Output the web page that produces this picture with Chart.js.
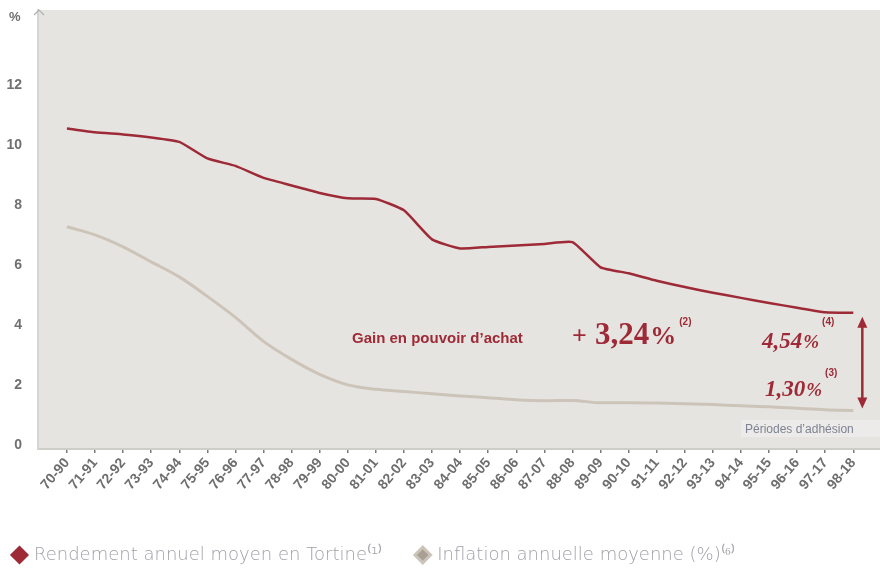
<!DOCTYPE html>
<html>
<head>
<meta charset="utf-8">
<script src="https://cdn.jsdelivr.net/npm/chart.js@4.4.1/dist/chart.umd.min.js"></script>
<style>
  html, body { margin: 0; padding: 0; background: #fff; }
  #wrap { width: 880px; height: 574px; }
</style>
</head>
<body>
<div id="wrap"><canvas id="chartTortine"></canvas></div>
<script>
// Périodes d'adhésion (axe X)
const periodes = ['70-90', '71-91', '72-92', '73-93', '74-94', '75-95', '76-96', '77-97', '78-98', '79-99',
    '80-00', '81-01', '82-02', '83-03', '84-04', '85-05', '86-06', '87-07', '88-08', '89-09',
    '90-10', '91-11', '92-12', '93-13', '94-14', '95-15', '96-16', '97-17', '98-18'];

// Rendement annuel moyen en Tortine (%)
const rendement = [10.55, 10.42, 10.35, 10.25, 10.1, 9.55, 9.3, 8.9, 8.65, 8.4,
    8.22, 8.2, 7.82, 6.85, 6.55, 6.6, 6.65, 6.7, 6.76, 5.92,
    5.72, 5.47, 5.26, 5.07, 4.9, 4.73, 4.57, 4.42, 4.4];

// Inflation annuelle moyenne (%)
const inflation = [7.27, 7.0, 6.6, 6.1, 5.6, 4.95, 4.25, 3.45, 2.85, 2.35,
    2.0, 1.85, 1.78, 1.7, 1.63, 1.57, 1.5, 1.47, 1.48, 1.4,
    1.4, 1.39, 1.37, 1.34, 1.3, 1.27, 1.22, 1.17, 1.14];

// Graduations de l'axe Y
const ticksY = [0, 2, 4, 6, 8, 10, 12];

const ROUGE = '#9d2a36';
const BEIGE = '#cdc4b9';

// Fond gris de la zone de tracé
const fondPlugin = {
    id: 'fond',
    beforeDraw(chart) {
        const { ctx, chartArea: a } = chart;
        ctx.save();
        ctx.fillStyle = '#e6e4e0';
        ctx.fillRect(a.left, a.top, chart.width - a.left, a.bottom - a.top);
        ctx.restore();
    }
};

// écrit un texte et renvoie la position x suivante
function ecrire(ctx, txt, x, y, font) {
    ctx.font = font;
    ctx.fillText(txt, x, y);
    return x + ctx.measureText(txt).width;
}

// Textes et flèche d'annotation
const annotPlugin = {
    id: 'annotations',
    afterDatasetsDraw(chart) {
        const { ctx, chartArea: a } = chart;
        const x = chart.scales.x, y = chart.scales.y;
        ctx.save();
        ctx.textBaseline = 'alphabetic';

        // "%" et flèche en haut de l'axe Y
        ctx.fillStyle = '#707070';
        ecrire(ctx, '%', 9, 21, 'bold 13px "Liberation Sans"');
        ctx.strokeStyle = '#b0b0b0';
        ctx.lineWidth = 1.2;
        ctx.beginPath();
        ctx.moveTo(a.left - 4, a.top + 5);
        ctx.lineTo(a.left + 1, a.top);
        ctx.lineTo(a.left + 6, a.top + 5);
        ctx.stroke();

        // Flèche double entre les deux courbes
        const last = periodes.length - 1;
        const xa = x.getPixelForValue(last) + 9;
        const yTop = y.getPixelForValue(rendement[last]) + 4;
        const yBot = y.getPixelForValue(inflation[last]) - 2;
        ctx.strokeStyle = ROUGE;
        ctx.fillStyle = ROUGE;
        ctx.lineWidth = 2.5;
        ctx.beginPath();
        ctx.moveTo(xa, yTop + 8);
        ctx.lineTo(xa, yBot - 8);
        ctx.stroke();
        ctx.beginPath();
        ctx.moveTo(xa, yTop); ctx.lineTo(xa - 5, yTop + 11); ctx.lineTo(xa + 5, yTop + 11); ctx.closePath();
        ctx.fill();
        ctx.beginPath();
        ctx.moveTo(xa, yBot); ctx.lineTo(xa - 5, yBot - 11); ctx.lineTo(xa + 5, yBot - 11); ctx.closePath();
        ctx.fill();

        // Gain en pouvoir d'achat
        ecrire(ctx, 'Gain en pouvoir d\u2019achat', 352, 343, 'bold 15px "Liberation Sans"');
        ecrire(ctx, '+', 572, 344, 'bold 26px "Liberation Serif"');
        let px = ecrire(ctx, '3,24', 595, 344, 'bold 31px "Liberation Serif"');
        px = ecrire(ctx, '%', px + 1, 344, 'bold 26px "Liberation Serif"');
        ecrire(ctx, '(2)', px + 3, 325, 'bold 10px "Liberation Sans"');

        // 4,54 % et 1,30 %
        px = ecrire(ctx, '4,54', 762, 348, 'italic bold 23px "Liberation Serif"');
        px = ecrire(ctx, '%', px + 1, 348, 'italic bold 19px "Liberation Serif"');
        ecrire(ctx, '(4)', px + 3, 325, 'bold 10px "Liberation Sans"');
        px = ecrire(ctx, '1,30', 765, 396, 'italic bold 23px "Liberation Serif"');
        px = ecrire(ctx, '%', px + 1, 396, 'italic bold 19px "Liberation Serif"');
        ecrire(ctx, '(3)', px + 3, 376, 'bold 10px "Liberation Sans"');

        // Périodes d'adhésion
        ctx.fillStyle = '#ecebe9';
        ctx.fillRect(741, 420, 140, 17);
        ctx.fillStyle = '#7d8392';
        ecrire(ctx, 'P\u00e9riodes d\u2019adh\u00e9sion', 745, 433, '12px "Liberation Sans"');

        ctx.restore();
    }
};

function renderChart() {
    const ctx = document.getElementById('chartTortine');
    new Chart(ctx.getContext('2d'), {
        type: 'line',
        data: {
            datasets: [{
                label: 'Rendement annuel moyen en Tortine\u207D\u00B9\u207E\u2003\u2002',
                data: rendement.map((v, i) => ({ x: i, y: v })),
                borderColor: ROUGE,
                backgroundColor: ROUGE,
                borderWidth: 2.5,
                pointRadius: 0,
                tension: 0.15
            }, {
                label: 'Inflation annuelle moyenne (%)\u207D\u2076\u207E',
                data: inflation.map((v, i) => ({ x: i, y: v })),
                borderColor: BEIGE,
                backgroundColor: '#a89f95',
                borderWidth: 3,
                pointRadius: 0,
                cubicInterpolationMode: 'monotone'
            }]
        },
        options: {
            responsive: true,
            maintainAspectRatio: false,
            animation: false,
            layout: { padding: { top: 10, right: 0, left: 6, bottom: 0 } },
            plugins: {
                tooltip: { enabled: false },
                legend: {
                    position: 'bottom',
                    align: 'start',
                    labels: {
                        usePointStyle: true,
                        pointStyle: 'rectRot',
                        boxWidth: 11,
                        boxHeight: 11,
                        padding: 8,
                        color: '#a0a0a8',
                        font: { family: 'DejaVu Sans', size: 18, weight: '200' }
                    }
                }
            },
            scales: {
                x: {
                    type: 'linear',
                    min: -1.03,
                    max: 28.95,
                    afterBuildTicks: (s) => { s.ticks = periodes.map((_, i) => ({ value: i })); },
                    afterFit: (s) => { s.height = 89; s.paddingLeft = 0; },
                    grid: { drawOnChartArea: false, drawTicks: true, tickLength: 4, color: '#7a7a7a', lineWidth: 1.5 },
                    border: { color: '#cfcdc8', width: 2 },
                    ticks: {
                        autoSkip: false,
                        maxRotation: 50,
                        minRotation: 50,
                        padding: 2,
                        color: '#6e6e6e',
                        font: { family: 'Liberation Sans', size: 14, weight: 'bold' },
                        callback: (v) => periodes[v] ?? ''
                    }
                },
                y: {
                    min: -0.14,
                    max: 14.5,
                    afterBuildTicks: (s) => { s.ticks = ticksY.map(v => ({ value: v })); },
                    afterFit: (s) => { s.width = 32; s.paddingTop = 0; s.paddingBottom = 0; },
                    grid: { display: false },
                    border: { color: '#d4d4d4', width: 2 },
                    ticks: {
                        padding: 8,
                        color: '#707070',
                        font: { family: 'Liberation Sans', size: 14, weight: 'bold' }
                    }
                }
            }
        },
        plugins: [fondPlugin, annotPlugin]
    });
}

window.addEventListener('DOMContentLoaded', renderChart);
</script>
</body>
</html>
